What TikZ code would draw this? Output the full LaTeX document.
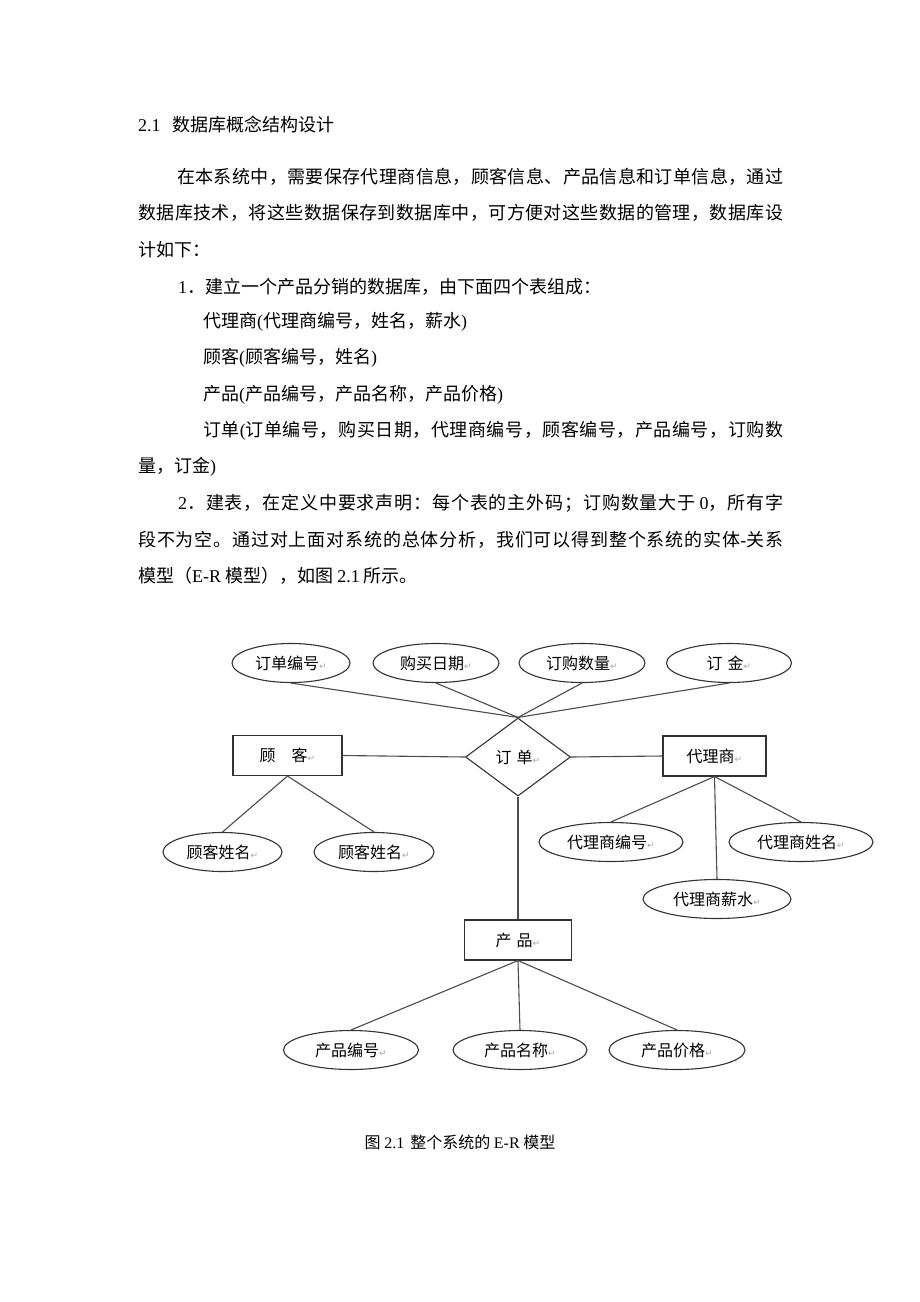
\documentclass[tikz,border=0pt]{standalone}
\usepackage{fontspec}
\setmainfont{Liberation Serif}
\newfontfamily\cjk{Noto Sans CJK SC}
\newfontfamily\dvs{DejaVu Sans}
\usetikzlibrary{shapes.geometric}
\newcount\cjkcc
\cjkcc="4E00
\loop \XeTeXcharclass\cjkcc=1 \advance\cjkcc by 1 \ifnum\cjkcc<"A000 \repeat
\XeTeXcharclass"FF0C=1 \XeTeXcharclass"3002=1 \XeTeXcharclass"3001=1
\XeTeXcharclass"FF1A=1 \XeTeXcharclass"FF1B=1 \XeTeXcharclass"FF08=1
\XeTeXcharclass"FF09=1 \XeTeXcharclass"FF0E=1
\XeTeXinterchartokenstate=1
\XeTeXinterchartoks 1 1 = {\hskip 0pt plus 3pt\relax}
\newcommand\lat[1]{{\rmfamily #1}}
\newcommand\ret{{\dvs\color{black!35}\fontsize{9}{9}\selectfont ↵}}
\begin{document}
\begin{tikzpicture}[x=1pt,y=-1pt,
  body/.style={anchor=west, inner sep=0pt, font=\cjk\fontsize{18}{18}\selectfont},
  lbl/.style={inner sep=0pt, draw=black!80, line width=1.1pt, font=\cjk\fontsize{16}{16}\selectfont},
  attr/.style={lbl, ellipse, minimum height=39pt},
  ent/.style={lbl, rectangle, minimum height=40pt},
  rel/.style={lbl, diamond, minimum width=105pt, minimum height=78pt},
  conn/.style={draw=black!70, line width=1.1pt}]
\useasboundingbox (0,0) rectangle (920,1302);
\fill[white] (0,0) rectangle (920,1302);

% body text
\node[body] (t0) at (138,125) {\lat{2.1}\hspace{12pt}数据库概念结构设计};
\node[body] (t1) at (177,177) {\hbox to 606pt{在本系统中，需要保存代理商信息，顾客信息、产品信息和订单信息，通过}};
\node[body] (t2) at (138,213) {\hbox to 645pt{数据库技术，将这些数据保存到数据库中，可方便对这些数据的管理，数据库设}};
\node[body] (t3) at (138,250) {计如下：};
\node[body] (t4) at (178,287) {\lat{1}．建立一个产品分销的数据库，由下面四个表组成：};
\node[body] (t5) at (203,322) {代理商\lat{(}代理商编号，姓名，薪水\lat{)}};
\node[body] (t6) at (203,358) {顾客\lat{(}顾客编号，姓名\lat{)}};
\node[body] (t7) at (203,395) {产品\lat{(}产品编号，产品名称，产品价格\lat{)}};
\node[body] (t8) at (203,431) {\hbox to 580pt{订单\lat{(}订单编号，购买日期，代理商编号，顾客编号，产品编号，订购数}};
\node[body] (t9) at (138,467) {量，订金\lat{)}};
\node[body] (t10) at (178,503) {\hbox to 605pt{\lat{2}．建表，在定义中要求声明：每个表的主外码；订购数量大于\hspace{4pt}\lat{0}，所有字}};
\node[body] (t11) at (138,540) {\hbox to 645pt{段不为空。通过对上面对系统的总体分析，我们可以得到整个系统的实体\lat{-}关系}};
\node[body] (t12) at (138,576) {模型（\lat{E-R} 模型），如图 \lat{2.1} 所示。};

% diagram
\node[attr, minimum width=118pt] (a1) at (291,663) {订单编号\ret};
\node[attr, minimum width=126pt] (a2) at (436,663) {购买日期\ret};
\node[attr, minimum width=126pt] (a3) at (582,663) {订购数量\ret};
\node[attr, minimum width=125pt] (a4) at (729,663) {订\hspace{5pt}金\ret};
\node[rel] (d) at (518,757) {订\hspace{5pt}单\ret};
\node[ent, minimum width=109pt] (c) at (287.5,755.5) {顾\hspace{16pt}客\ret};
\node[ent, minimum width=103pt] (g) at (714.5,756) {代理商\ret};
\node[ent, minimum width=107pt] (p) at (518,940) {产\hspace{5pt}品\ret};

\node[attr, minimum width=119pt] (ca1) at (222.5,852) {顾客姓名\ret};
\node[attr, minimum width=120pt] (ca2) at (374,852) {顾客姓名\ret};

\node[attr, minimum width=144pt] (ga1) at (611,842) {代理商编号\ret};
\node[attr, minimum width=144pt] (ga2) at (801,842) {代理商姓名\ret};
\node[attr, minimum width=148pt] (ga3) at (717,899) {代理商薪水\ret};

\node[attr, minimum width=135pt] (pa1) at (351,1050) {产品编号\ret};
\node[attr, minimum width=134pt] (pa2) at (520,1050) {产品名称\ret};
\node[attr, minimum width=136pt] (pa3) at (677,1050) {产品价格\ret};

\draw[conn] (a1.south) -- (d.north);
\draw[conn] (a2.south) -- (d.north);
\draw[conn] (a3.south) -- (d.north);
\draw[conn] (a4.south) -- (d.north);
\draw[conn] (c.east) -- (d.west);
\draw[conn] (d.east) -- (g.west);
\draw[conn] (d.south) -- (p.north);
\draw[conn] (c.south) -- (ca1.north);
\draw[conn] (c.south) -- (ca2.north);
\draw[conn] (g.south) -- (ga1.north);
\draw[conn] (g.south) -- (ga2.north);
\draw[conn] (g.south) -- (ga3.north);
\draw[conn] (p.south) -- (pa1.north);
\draw[conn] (p.south) -- (pa2.north);
\draw[conn] (p.south) -- (pa3.north);

\node[font=\cjk\fontsize{16}{16}\selectfont, inner sep=0pt] (cap) at (460,1142) {图 \lat{2.1}\hspace{6pt}整个系统的 \lat{E-R} 模型};
\end{tikzpicture}
\end{document}
